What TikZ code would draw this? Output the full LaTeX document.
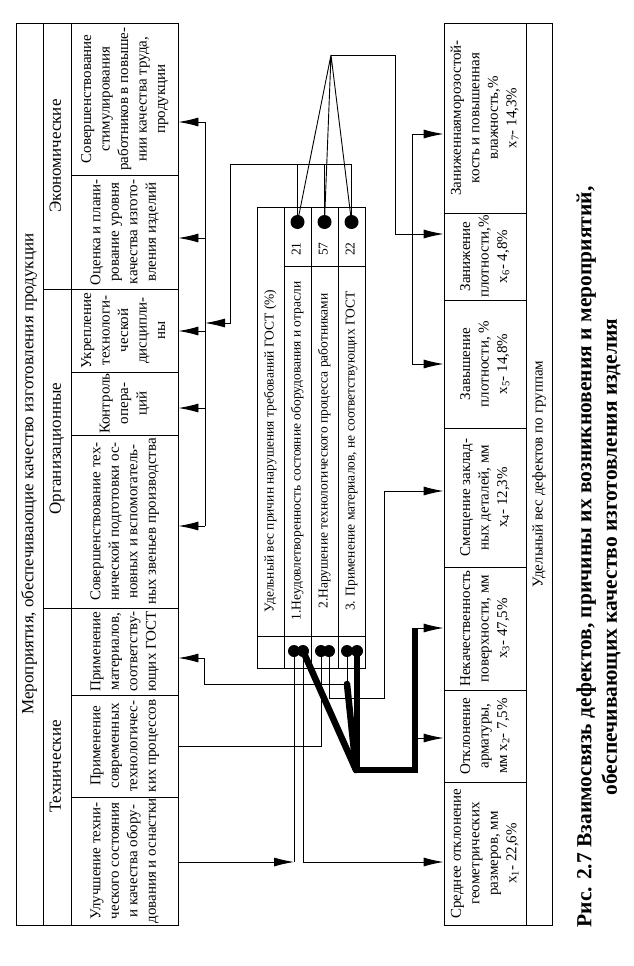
\documentclass[tikz,border=0pt]{standalone}
\usepackage{fontspec}
\setmainfont{Liberation Serif}
\usepackage{graphicx}
\usetikzlibrary{arrows.meta}
\tikzstyle{cell} = [draw, inner sep=0pt]
\tikzstyle{dot} = [circle, fill, inner sep=0pt]
\tikzstyle{arr} = [-{Latex[length=20pt,width=9pt]}]
\tikzstyle{fat} = [line width=6.5pt]
\tikzstyle{bigtxt} = [font=\fontsize{17}{20}\selectfont]
\tikzstyle{midtxt} = [font=\fontsize{15}{18.5}\selectfont]
\tikzstyle{smalltxt} = [font=\fontsize{13.5}{16}\selectfont]
\newcommand{\vt}[1]{\rotatebox{90}{\begin{tabular}{@{}c@{}}#1\end{tabular}}}

\begin{document}
\begin{tikzpicture}[x=1pt, y=-1pt, line width=0.9pt]
    \useasboundingbox (0,0) rectangle (634,966);
    % measures
    \node[cell, bigtxt, minimum width=27pt, minimum height=902pt] (title) at (29.5,474) {\vt{Мероприятия, обеспечивающие качество изготовления продукции}};
    \node[cell, bigtxt, minimum width=28pt, minimum height=266pt] (econ) at (57,156) {\vt{Экономические}};
    \node[cell, bigtxt, minimum width=28pt, minimum height=319pt] (org) at (57,448.5) {\vt{Организационные}};
    \node[cell, bigtxt, minimum width=28pt, minimum height=317pt] (tech) at (57,766.5) {\vt{Технические}};
    \node[cell, midtxt, minimum width=107pt, minimum height=152pt] (e1) at (124.5,99) {\vt{Совершенствование\\стимулирования\\работников в повыше-\\нии качества труда,\\продукции}};
    \node[cell, midtxt, minimum width=107pt, minimum height=114pt] (e2) at (124.5,232) {\vt{Оценка и плани-\\рование уровня\\качества изгото-\\вления изделий}};
    \node[cell, midtxt, minimum width=107pt, minimum height=83pt] (o1) at (124.5,330.5) {\vt{Укрепление\\технологи-\\ческой\\дисципли-\\ны}};
    \node[cell, midtxt, minimum width=107pt, minimum height=63pt] (o2) at (124.5,403.5) {\vt{Контроль\\опера-\\ций}};
    \node[cell, midtxt, minimum width=107pt, minimum height=173pt] (o3) at (124.5,521.5) {\vt{Совершенствование тех-\\нической подготовки ос-\\новных и вспомогатель-\\ных звеньев производства}};
    \node[cell, midtxt, minimum width=107pt, minimum height=87pt] (t1) at (124.5,651.5) {\vt{Применение\\материалов,\\соответству-\\ющих ГОСТ}};
    \node[cell, midtxt, minimum width=107pt, minimum height=102pt] (t2) at (124.5,746) {\vt{Применение\\современных\\технологичес-\\ких процессов}};
    \node[cell, midtxt, minimum width=107pt, minimum height=128pt] (t3) at (124.5,861) {\vt{Улучшение техни-\\ческого состояния\\и качества обору-\\дования и оснастки}};

    % causes
    \node[cell, minimum width=27pt, minimum height=429pt] (head) at (270.5,421.5) {};
    \node[smalltxt] (headtxt) at (270.5,451) {\vt{Удельный вес причин нарушения требований ГОСТ (\%)}};
    \node[cell, minimum width=27pt, minimum height=32pt] (hb) at (270.5,652) {};
    \node[cell, minimum width=27pt, minimum height=59pt] (v1) at (297.5,236.5) {};
    \node[cell, minimum width=27pt, minimum height=59pt] (v2) at (324.5,236.5) {};
    \node[cell, minimum width=27pt, minimum height=59pt] (v3) at (351.5,236.5) {};
    \node[smalltxt] (n1) at (297.5,249) {\vt{21}};
    \node[smalltxt] (n2) at (324.5,249) {\vt{57}};
    \node[smalltxt] (n3) at (351.5,249) {\vt{22}};
    \node[cell, smalltxt, minimum width=27pt, minimum height=370pt] (c1) at (297.5,451) {\vt{1.Неудовлетворенность состояние оборудования и отрасли}};
    \node[cell, smalltxt, minimum width=27pt, minimum height=370pt] (c2) at (324.5,451) {\vt{2.Нарушение технологического процесса работниками}};
    \node[cell, smalltxt, minimum width=27pt, minimum height=370pt] (c3) at (351.5,451) {\vt{3. Применение материалов, не соответствующих ГОСТ}};
    \node[cell, minimum width=27pt, minimum height=32pt] (b1) at (297.5,652) {};
    \node[cell, minimum width=27pt, minimum height=32pt] (b2) at (324.5,652) {};
    \node[cell, minimum width=27pt, minimum height=32pt] (b3) at (351.5,652) {};
    \node[dot, minimum size=14pt] (p1) at (297.5,222) {};
    \node[dot, minimum size=14pt] (p2) at (324.5,222) {};
    \node[dot, minimum size=14pt] (p3) at (351.5,222) {};
    \node[dot, minimum size=12pt] (q1a) at (294,651) {};
    \node[dot, minimum size=12pt] (q1b) at (303,651) {};
    \node[dot, minimum size=12pt] (q2a) at (321,651) {};
    \node[dot, minimum size=12pt] (q2b) at (329,651) {};
    \node[dot, minimum size=12pt] (q3a) at (347,651) {};
    \node[dot, minimum size=12pt] (q3b) at (357,651) {};

    % defects
    \node[cell, midtxt, minimum width=82pt, minimum height=190pt] (d7) at (485,118) {\vt{Заниженнаяморозостой-\\кость и повышенная\\влажность,\%\\x\textsubscript{7}- 14,3\%}};
    \node[cell, midtxt, minimum width=82pt, minimum height=87pt] (d6) at (485,256.5) {\vt{Занижение\\плотности,\%\\x\textsubscript{6}- 4,8\%}};
    \node[cell, midtxt, minimum width=82pt, minimum height=128pt] (d5) at (485,364) {\vt{Завышение\\плотности, \%\\x\textsubscript{5}- 14,8\%}};
    \node[cell, midtxt, minimum width=82pt, minimum height=139pt] (d4) at (485,497.5) {\vt{Смещение заклад-\\ных деталей, мм\\x\textsubscript{4}- 12,3\%}};
    \node[cell, midtxt, minimum width=82pt, minimum height=123pt] (d3) at (485,628.5) {\vt{Некачественность\\поверхности, мм\\x\textsubscript{3}- 47,5\%}};
    \node[cell, midtxt, minimum width=82pt, minimum height=92pt] (d2) at (485,736) {\vt{Отклонение\\арматуры,\\мм x\textsubscript{2}- 7,5\%}};
    \node[cell, midtxt, minimum width=82pt, minimum height=143pt] (d1) at (485,853.5) {\vt{Среднее отклонение\\геометрических\\размеров, мм\\x\textsubscript{1}- 22,6\%}};
    \node[cell, midtxt, minimum width=26pt, minimum height=902pt] (share) at (539,474) {\vt{Удельный вес дефектов по группам}};

    \node[font=\fontsize{21.5}{25.5}\selectfont\bfseries] (caption) at (599,557) {\vt{Рис. 2.7 Взаимосвязь дефектов, причины их возникновения и мероприятий,\\обеспечивающих качество изготовления изделия}};

    % upper links
    \coordinate (apex) at (331,55);
    \draw (apex) -- (p1.center) (apex) -- (p2.center) (apex) -- (p3.center);
    \draw (p1.center) -- (p1.center |- 0,164)
          (p2.center) -- (p2.center |- 0,164);
    \draw[arr] (p3.center) |- (230,164) -- (230,323) -- (205,323);
    \draw (205,122) -- (205,526);
    \draw[arr] (205,122) -- (e1.east |- 0,122);
    \draw[arr] (205,238) -- (e2.east |- 0,238);
    \draw[arr] (205,331) -- (o1.east |- 0,331);
    \draw[arr] (205,408) -- (o2.east |- 0,408);
    \draw[arr] (205,526) -- (o3.east |- 0,526);
    \draw[arr] (apex) -- (395,55) -- (395,234) -- (d6.west |- 0,234);
    \draw (412,134) -- (412,364);
    \draw[arr] (412,134) -- (d7.west |- 0,134);
    \draw[arr] (412,364) -- (d5.west |- 0,364);

    % lower links
    \draw (q1a.center) -- (q1a.center |- 0,862);
    \draw[arr] (t3.east |- 0,862) -- (q1a.center |- 0,862);
    \draw[arr] (q1b.center) |- (d1.west |- 0,862);
    \draw (q2a.center) |- (t2.east |- 0,746);
    \draw[arr] (q2b.center) |- (384,698) -- (384,491) -- (d4.west |- 0,491);
    \draw[arr] (q3a.center) |- (204,684) -- (204,658) -- (t1.east |- 0,658);
    \draw[fat, line cap=round] (q1b.center) -- (356,770);
    \draw[fat, line cap=round] (347,684) -- (356,770);
    \draw[fat] (q3b.center) -- (357,770) -- (415,770) -- (415,628);
    \draw[arr] (415,628) -- (d3.west |- 0,628);
    \draw[arr] (415,738) -- (d2.west |- 0,738);
\end{tikzpicture}
\end{document}
